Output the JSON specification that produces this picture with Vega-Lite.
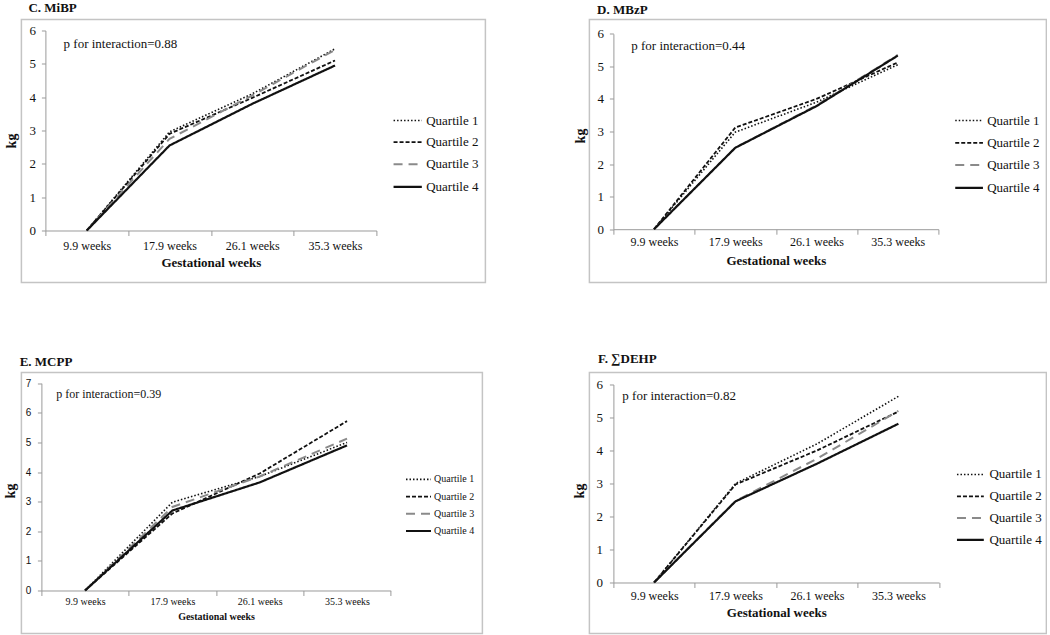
{
  "$schema": "https://vega.github.io/schema/vega-lite/v6.json",
  "background": "white",
  "padding": {"left": 1.4, "top": 0.5, "right": 0, "bottom": 0},
  "config": {
    "font": "Liberation Serif, Times New Roman, serif",
    "view": {"stroke": "#c4c4c4", "strokeWidth": 1.5},
    "title": {"font": "Liberation Serif, Times New Roman, serif", "fontWeight": "bold", "color": "#111", "anchor": "start", "frame": "group", "baseline": "alphabetic"},
    "axis": {"domainColor": "#9a9a9a", "tickColor": "#9a9a9a", "labelFont": "Liberation Serif, Times New Roman, serif", "titleFont": "Liberation Serif, Times New Roman, serif", "labelColor": "#111", "titleColor": "#111", "grid": false, "titleFontWeight": "bold", "tickSize": 4, "labelOverlap": false},
    "axisX": {"tickBand": "extent", "labelAngle": 0, "tickSize": 5},
    "axisY": {"labelPadding": 6, "titleBaseline": "middle"},
    "legend": {"labelFont": "Liberation Serif, Times New Roman, serif", "labelColor": "#111", "padding": 0, "orient": "none"},
    "text": {"font": "Liberation Serif, Times New Roman, serif", "color": "#111"}
  },
  "datasets": {
    "series": [
      {"panel": "C", "quartile": "Quartile 1", "week": "9.9 weeks", "kg": 0},
      {"panel": "C", "quartile": "Quartile 1", "week": "17.9 weeks", "kg": 2.96},
      {"panel": "C", "quartile": "Quartile 1", "week": "26.1 weeks", "kg": 4.1},
      {"panel": "C", "quartile": "Quartile 1", "week": "35.3 weeks", "kg": 5.45},
      {"panel": "C", "quartile": "Quartile 2", "week": "9.9 weeks", "kg": 0},
      {"panel": "C", "quartile": "Quartile 2", "week": "17.9 weeks", "kg": 2.9},
      {"panel": "C", "quartile": "Quartile 2", "week": "26.1 weeks", "kg": 3.98},
      {"panel": "C", "quartile": "Quartile 2", "week": "35.3 weeks", "kg": 5.1},
      {"panel": "C", "quartile": "Quartile 3", "week": "9.9 weeks", "kg": 0},
      {"panel": "C", "quartile": "Quartile 3", "week": "17.9 weeks", "kg": 2.75},
      {"panel": "C", "quartile": "Quartile 3", "week": "26.1 weeks", "kg": 4.05},
      {"panel": "C", "quartile": "Quartile 3", "week": "35.3 weeks", "kg": 5.42},
      {"panel": "C", "quartile": "Quartile 4", "week": "9.9 weeks", "kg": 0},
      {"panel": "C", "quartile": "Quartile 4", "week": "17.9 weeks", "kg": 2.55},
      {"panel": "C", "quartile": "Quartile 4", "week": "26.1 weeks", "kg": 3.8},
      {"panel": "C", "quartile": "Quartile 4", "week": "35.3 weeks", "kg": 4.95},
      {"panel": "D", "quartile": "Quartile 1", "week": "9.9 weeks", "kg": 0},
      {"panel": "D", "quartile": "Quartile 1", "week": "17.9 weeks", "kg": 2.98},
      {"panel": "D", "quartile": "Quartile 1", "week": "26.1 weeks", "kg": 3.9},
      {"panel": "D", "quartile": "Quartile 1", "week": "35.3 weeks", "kg": 5.05},
      {"panel": "D", "quartile": "Quartile 2", "week": "9.9 weeks", "kg": 0},
      {"panel": "D", "quartile": "Quartile 2", "week": "17.9 weeks", "kg": 3.12},
      {"panel": "D", "quartile": "Quartile 2", "week": "26.1 weeks", "kg": 4.0},
      {"panel": "D", "quartile": "Quartile 2", "week": "35.3 weeks", "kg": 5.12},
      {"panel": "D", "quartile": "Quartile 3", "week": "9.9 weeks", "kg": 0},
      {"panel": "D", "quartile": "Quartile 3", "week": "17.9 weeks", "kg": 2.5},
      {"panel": "D", "quartile": "Quartile 3", "week": "26.1 weeks", "kg": 3.8},
      {"panel": "D", "quartile": "Quartile 3", "week": "35.3 weeks", "kg": 5.35},
      {"panel": "D", "quartile": "Quartile 4", "week": "9.9 weeks", "kg": 0},
      {"panel": "D", "quartile": "Quartile 4", "week": "17.9 weeks", "kg": 2.5},
      {"panel": "D", "quartile": "Quartile 4", "week": "26.1 weeks", "kg": 3.78},
      {"panel": "D", "quartile": "Quartile 4", "week": "35.3 weeks", "kg": 5.33},
      {"panel": "E", "quartile": "Quartile 1", "week": "9.9 weeks", "kg": 0},
      {"panel": "E", "quartile": "Quartile 1", "week": "17.9 weeks", "kg": 2.98},
      {"panel": "E", "quartile": "Quartile 1", "week": "26.1 weeks", "kg": 3.85},
      {"panel": "E", "quartile": "Quartile 1", "week": "35.3 weeks", "kg": 5.0},
      {"panel": "E", "quartile": "Quartile 2", "week": "9.9 weeks", "kg": 0},
      {"panel": "E", "quartile": "Quartile 2", "week": "17.9 weeks", "kg": 2.6},
      {"panel": "E", "quartile": "Quartile 2", "week": "26.1 weeks", "kg": 3.95},
      {"panel": "E", "quartile": "Quartile 2", "week": "35.3 weeks", "kg": 5.72},
      {"panel": "E", "quartile": "Quartile 3", "week": "9.9 weeks", "kg": 0},
      {"panel": "E", "quartile": "Quartile 3", "week": "17.9 weeks", "kg": 2.82},
      {"panel": "E", "quartile": "Quartile 3", "week": "26.1 weeks", "kg": 3.85},
      {"panel": "E", "quartile": "Quartile 3", "week": "35.3 weeks", "kg": 5.13},
      {"panel": "E", "quartile": "Quartile 4", "week": "9.9 weeks", "kg": 0},
      {"panel": "E", "quartile": "Quartile 4", "week": "17.9 weeks", "kg": 2.7},
      {"panel": "E", "quartile": "Quartile 4", "week": "26.1 weeks", "kg": 3.65},
      {"panel": "E", "quartile": "Quartile 4", "week": "35.3 weeks", "kg": 4.9},
      {"panel": "F", "quartile": "Quartile 1", "week": "9.9 weeks", "kg": 0},
      {"panel": "F", "quartile": "Quartile 1", "week": "17.9 weeks", "kg": 3.0},
      {"panel": "F", "quartile": "Quartile 1", "week": "26.1 weeks", "kg": 4.2},
      {"panel": "F", "quartile": "Quartile 1", "week": "35.3 weeks", "kg": 5.64},
      {"panel": "F", "quartile": "Quartile 2", "week": "9.9 weeks", "kg": 0},
      {"panel": "F", "quartile": "Quartile 2", "week": "17.9 weeks", "kg": 2.97},
      {"panel": "F", "quartile": "Quartile 2", "week": "26.1 weeks", "kg": 4.0},
      {"panel": "F", "quartile": "Quartile 2", "week": "35.3 weeks", "kg": 5.18},
      {"panel": "F", "quartile": "Quartile 3", "week": "9.9 weeks", "kg": 0},
      {"panel": "F", "quartile": "Quartile 3", "week": "17.9 weeks", "kg": 2.47},
      {"panel": "F", "quartile": "Quartile 3", "week": "26.1 weeks", "kg": 3.75},
      {"panel": "F", "quartile": "Quartile 3", "week": "35.3 weeks", "kg": 5.2},
      {"panel": "F", "quartile": "Quartile 4", "week": "9.9 weeks", "kg": 0},
      {"panel": "F", "quartile": "Quartile 4", "week": "17.9 weeks", "kg": 2.46},
      {"panel": "F", "quartile": "Quartile 4", "week": "26.1 weeks", "kg": 3.6},
      {"panel": "F", "quartile": "Quartile 4", "week": "35.3 weeks", "kg": 4.81}
    ],
    "notes": [
      {"panel": "C", "week": "9.9 weeks", "kg": 5.6, "note": "p for interaction=0.88"},
      {"panel": "D", "week": "9.9 weeks", "kg": 5.64, "note": "p for interaction=0.44"},
      {"panel": "E", "week": "9.9 weeks", "kg": 6.64, "note": "p for interaction=0.39"},
      {"panel": "F", "week": "9.9 weeks", "kg": 5.64, "note": "p for interaction=0.82"}
    ]
  },
  "columns": 2,
  "bounds": "flush",
  "spacing": {"row": 90, "column": 104},
  "resolve": {
    "scale": {"color": "independent", "strokeDash": "independent", "strokeWidth": "independent"},
    "legend": {"color": "independent", "strokeDash": "independent", "strokeWidth": "independent"}
  },
  "concat": [
    {
      "width": 464, "height": 263,
      "title": {"text": "C. MiBP", "offset": 4.6, "dx": 7, "fontSize": 13},
      "layer": [
        {
          "data": {"name": "series"},
          "transform": [{"filter": "datum.panel === 'C'"}],
          "mark": {"type": "line", "strokeCap": "butt"},
          "encoding": {
            "x": {"field": "week", "type": "ordinal", "bandPosition": 0.5,
              "scale": {"type": "band", "domain": ["9.9 weeks", "17.9 weeks", "26.1 weeks", "35.3 weeks"], "range": [24, 355], "paddingInner": 0, "paddingOuter": 0},
              "axis": {"title": "Gestational weeks", "offset": -52, "labelFontSize": 12, "titleFontSize": 13, "labelPadding": 5, "titlePadding": 5}},
            "y": {"field": "kg", "type": "quantitative",
              "scale": {"domain": [0, 6], "range": [211, 11], "nice": false},
              "axis": {"title": "kg", "offset": -24, "values": [0, 1, 2, 3, 4, 5, 6], "titleX": -34, "titleY": 121, "labelFontSize": 13, "titleFontSize": 14}},
            "color": {"field": "quartile", "type": "nominal",
              "scale": {"domain": ["Quartile 1", "Quartile 2", "Quartile 3", "Quartile 4"], "range": ["#111111", "#111111", "#8a8a8a", "#111111"]},
              "legend": {"title": null, "symbolType": "M-2,0H2", "legendX": 377.8, "legendY": 93, "symbolSize": 200, "labelOffset": 10, "rowPadding": 6.6, "labelFontSize": 13}},
            "strokeDash": {"field": "quartile", "type": "nominal",
              "scale": {"domain": ["Quartile 1", "Quartile 2", "Quartile 3", "Quartile 4"], "range": [[1.5, 2], [4, 2], [9, 6], [1, 0]]},
              "legend": {"title": null, "symbolType": "M-2,0H2", "legendX": 377.8, "legendY": 93, "symbolSize": 200, "labelOffset": 10, "rowPadding": 6.6, "labelFontSize": 13}},
            "strokeWidth": {"field": "quartile", "type": "ordinal",
              "scale": {"domain": ["Quartile 1", "Quartile 2", "Quartile 3", "Quartile 4"], "range": [1.6, 2.2, 2.2, 2.4]},
              "legend": {"title": null, "symbolType": "M-2,0H2", "legendX": 377.8, "legendY": 93, "symbolSize": 200, "labelOffset": 10, "rowPadding": 6.6, "labelFontSize": 13}}
          }
        },
        {
          "data": {"name": "notes"},
          "transform": [{"filter": "datum.panel === 'C'"}],
          "mark": {"type": "text", "align": "left", "baseline": "middle", "fontSize": 13},
          "encoding": {
            "x": {"field": "week", "type": "ordinal", "bandPosition": 0.22},
            "y": {"field": "kg", "type": "quantitative"},
            "text": {"field": "note"}
          }
        }
      ]
    },
    {
      "width": 457, "height": 263,
      "title": {"text": "D. MBzP", "offset": 2.3, "dx": 7.7, "fontSize": 13},
      "layer": [
        {
          "data": {"name": "series"},
          "transform": [{"filter": "datum.panel === 'D'"}],
          "mark": {"type": "line", "strokeCap": "butt"},
          "encoding": {
            "x": {"field": "week", "type": "ordinal", "bandPosition": 0.5,
              "scale": {"type": "band", "domain": ["9.9 weeks", "17.9 weeks", "26.1 weeks", "35.3 weeks"], "range": [24, 349], "paddingInner": 0, "paddingOuter": 0},
              "axis": {"title": "Gestational weeks", "offset": -53.3, "labelFontSize": 12, "titleFontSize": 13, "labelPadding": 2.7, "titlePadding": 6.3}},
            "y": {"field": "kg", "type": "quantitative",
              "scale": {"domain": [0, 6], "range": [209.7, 14.3], "nice": false},
              "axis": {"title": "kg", "offset": -24, "values": [0, 1, 2, 3, 4, 5, 6], "titleX": -33.2, "titleY": 116, "labelFontSize": 13, "titleFontSize": 14}},
            "color": {"field": "quartile", "type": "nominal",
              "scale": {"domain": ["Quartile 1", "Quartile 2", "Quartile 3", "Quartile 4"], "range": ["#111111", "#111111", "#8a8a8a", "#111111"]},
              "legend": {"title": null, "symbolType": "M-2,0H2", "legendX": 371.2, "legendY": 93, "symbolSize": 192, "labelOffset": 9.6, "rowPadding": 7.3, "labelFontSize": 13}},
            "strokeDash": {"field": "quartile", "type": "nominal",
              "scale": {"domain": ["Quartile 1", "Quartile 2", "Quartile 3", "Quartile 4"], "range": [[1.5, 2], [4, 2], [9, 6], [1, 0]]},
              "legend": {"title": null, "symbolType": "M-2,0H2", "legendX": 371.2, "legendY": 93, "symbolSize": 192, "labelOffset": 9.6, "rowPadding": 7.3, "labelFontSize": 13}},
            "strokeWidth": {"field": "quartile", "type": "ordinal",
              "scale": {"domain": ["Quartile 1", "Quartile 2", "Quartile 3", "Quartile 4"], "range": [1.6, 2.2, 2.2, 2.4]},
              "legend": {"title": null, "symbolType": "M-2,0H2", "legendX": 371.2, "legendY": 93, "symbolSize": 192, "labelOffset": 9.6, "rowPadding": 7.3, "labelFontSize": 13}}
          }
        },
        {
          "data": {"name": "notes"},
          "transform": [{"filter": "datum.panel === 'D'"}],
          "mark": {"type": "text", "align": "left", "baseline": "middle", "fontSize": 13},
          "encoding": {
            "x": {"field": "week", "type": "ordinal", "bandPosition": 0.22},
            "y": {"field": "kg", "type": "quantitative"},
            "text": {"field": "note"}
          }
        }
      ]
    },
    {
      "width": 461, "height": 261,
      "title": {"text": "E. MCPP", "offset": 3.6, "dx": -1.7, "fontSize": 13},
      "layer": [
        {
          "data": {"name": "series"},
          "transform": [{"filter": "datum.panel === 'E'"}],
          "mark": {"type": "line", "strokeCap": "butt"},
          "encoding": {
            "x": {"field": "week", "type": "ordinal", "bandPosition": 0.5,
              "scale": {"type": "band", "domain": ["9.9 weeks", "17.9 weeks", "26.1 weeks", "35.3 weeks"], "range": [20, 369.3], "paddingInner": 0, "paddingOuter": 0},
              "axis": {"title": "Gestational weeks", "offset": -43, "labelFontSize": 10, "titleFontSize": 10, "labelPadding": 1.5, "titlePadding": 5}},
            "y": {"field": "kg", "type": "quantitative",
              "scale": {"domain": [0, 7], "range": [218, 10.7], "nice": false},
              "axis": {"title": "kg", "offset": -20, "values": [0, 1, 2, 3, 4, 5, 6, 7], "tickCount": 8, "labelOverlap": false, "titleX": -31.3, "titleY": 118, "labelFontSize": 10, "labelFont": "Liberation Sans, Arial, sans-serif", "labelPadding": 6.5, "titleFontSize": 14}},
            "color": {"field": "quartile", "type": "nominal",
              "scale": {"domain": ["Quartile 1", "Quartile 2", "Quartile 3", "Quartile 4"], "range": ["#111111", "#111111", "#8a8a8a", "#111111"]},
              "legend": {"title": null, "symbolType": "M-2,0H2", "legendX": 389.6, "legendY": 99.4, "symbolSize": 156, "labelOffset": 8, "rowPadding": 4.2, "labelFontSize": 10}},
            "strokeDash": {"field": "quartile", "type": "nominal",
              "scale": {"domain": ["Quartile 1", "Quartile 2", "Quartile 3", "Quartile 4"], "range": [[1.5, 2], [4, 2], [9, 6], [1, 0]]},
              "legend": {"title": null, "symbolType": "M-2,0H2", "legendX": 389.6, "legendY": 99.4, "symbolSize": 156, "labelOffset": 8, "rowPadding": 4.2, "labelFontSize": 10}},
            "strokeWidth": {"field": "quartile", "type": "ordinal",
              "scale": {"domain": ["Quartile 1", "Quartile 2", "Quartile 3", "Quartile 4"], "range": [1.6, 2.2, 2.2, 2.4]},
              "legend": {"title": null, "symbolType": "M-2,0H2", "legendX": 389.6, "legendY": 99.4, "symbolSize": 156, "labelOffset": 8, "rowPadding": 4.2, "labelFontSize": 10}}
          }
        },
        {
          "data": {"name": "notes"},
          "transform": [{"filter": "datum.panel === 'E'"}],
          "mark": {"type": "text", "align": "left", "baseline": "middle", "fontSize": 12},
          "encoding": {
            "x": {"field": "week", "type": "ordinal", "bandPosition": 0.17},
            "y": {"field": "kg", "type": "quantitative",
              "axis": {"title": "kg", "offset": -20, "values": [0, 1, 2, 3, 4, 5, 6, 7], "tickCount": 8, "labelOverlap": false, "titleX": -31.3, "titleY": 118, "labelFontSize": 10, "labelFont": "Liberation Sans, Arial, sans-serif", "labelPadding": 6.5, "titleFontSize": 14}},
            "text": {"field": "note"}
          }
        }
      ]
    },
    {
      "width": 457, "height": 261,
      "title": {"text": "F. ∑DEHP", "offset": 6.3, "dx": 8.7, "fontSize": 13},
      "layer": [
        {
          "data": {"name": "series"},
          "transform": [{"filter": "datum.panel === 'F'"}],
          "mark": {"type": "line", "strokeCap": "butt"},
          "encoding": {
            "x": {"field": "week", "type": "ordinal", "bandPosition": 0.5,
              "scale": {"type": "band", "domain": ["9.9 weeks", "17.9 weeks", "26.1 weeks", "35.3 weeks"], "range": [24, 349.7], "paddingInner": 0, "paddingOuter": 0},
              "axis": {"title": "Gestational weeks", "offset": -51, "labelFontSize": 12, "titleFontSize": 13, "labelPadding": 2.7, "titlePadding": 5.6}},
            "y": {"field": "kg", "type": "quantitative",
              "scale": {"domain": [0, 6], "range": [210, 12], "nice": false},
              "axis": {"title": "kg", "offset": -24, "values": [0, 1, 2, 3, 4, 5, 6], "titleX": -34, "titleY": 118, "labelFontSize": 13, "labelPadding": 7, "titleFontSize": 14}},
            "color": {"field": "quartile", "type": "nominal",
              "scale": {"domain": ["Quartile 1", "Quartile 2", "Quartile 3", "Quartile 4"], "range": ["#111111", "#111111", "#8a8a8a", "#111111"]},
              "legend": {"title": null, "symbolType": "M-2,0H2", "legendX": 373, "legendY": 94, "symbolSize": 180, "labelOffset": 11, "rowPadding": 6.8, "labelFontSize": 13}},
            "strokeDash": {"field": "quartile", "type": "nominal",
              "scale": {"domain": ["Quartile 1", "Quartile 2", "Quartile 3", "Quartile 4"], "range": [[1.5, 2], [4, 2], [9, 6], [1, 0]]},
              "legend": {"title": null, "symbolType": "M-2,0H2", "legendX": 373, "legendY": 94, "symbolSize": 180, "labelOffset": 11, "rowPadding": 6.8, "labelFontSize": 13}},
            "strokeWidth": {"field": "quartile", "type": "ordinal",
              "scale": {"domain": ["Quartile 1", "Quartile 2", "Quartile 3", "Quartile 4"], "range": [1.6, 2.2, 2.2, 2.4]},
              "legend": {"title": null, "symbolType": "M-2,0H2", "legendX": 373, "legendY": 94, "symbolSize": 180, "labelOffset": 11, "rowPadding": 6.8, "labelFontSize": 13}}
          }
        },
        {
          "data": {"name": "notes"},
          "transform": [{"filter": "datum.panel === 'F'"}],
          "mark": {"type": "text", "align": "left", "baseline": "middle", "fontSize": 13},
          "encoding": {
            "x": {"field": "week", "type": "ordinal", "bandPosition": 0.11},
            "y": {"field": "kg", "type": "quantitative"},
            "text": {"field": "note"}
          }
        }
      ]
    }
  ]
}
